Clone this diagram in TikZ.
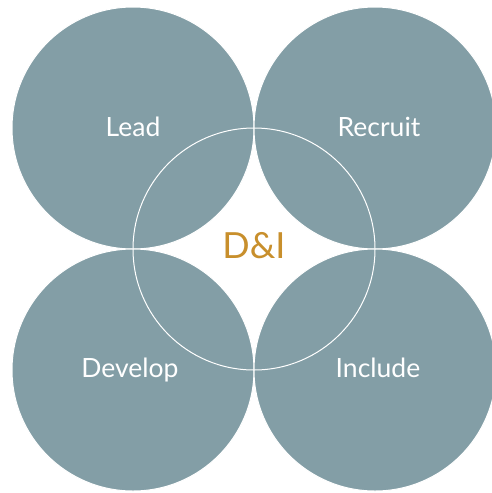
\documentclass[tikz,border=0pt]{standalone}
\usepackage{fontspec}
\setmainfont{Lato}
\definecolor{petal}{RGB}{131,158,166}
\definecolor{gold}{RGB}{200,143,44}
\begin{document}
\begin{tikzpicture}[x=1pt,y=-1pt,
  petalc/.style={circle,fill=petal,draw=white,line width=1pt,minimum size=242pt,inner sep=0pt},
  lbl/.style={text=white,anchor=base,inner sep=0pt,font=\fontsize{26.5}{30}\selectfont},
  ring/.style={circle,draw=white,line width=1pt,minimum size=242pt,inner sep=0pt}]
\useasboundingbox (0,0) rectangle (492,493);
\fill[white] (0,0) rectangle (492,493);
\node[petalc] (tl) at (133,128) {};
\node[petalc] (tr) at (375,128) {};
\node[petalc] (bl) at (133,370) {};
\node[petalc] (br) at (375,370) {};
\node[ring] (mid) at (254,249) {};
\node[lbl] (lead) at (133,136) {Lead};
\node[lbl] (recruit) at (379,136) {Recruit};
\node[lbl] (develop) at (130,377) {Develop};
\node[lbl] (include) at (378,377) {Include};
\node[text=gold,anchor=base,inner sep=0pt,font=\fontsize{36}{40}\selectfont] (di) at (254,258) {D\&I};
\end{tikzpicture}
\end{document}
